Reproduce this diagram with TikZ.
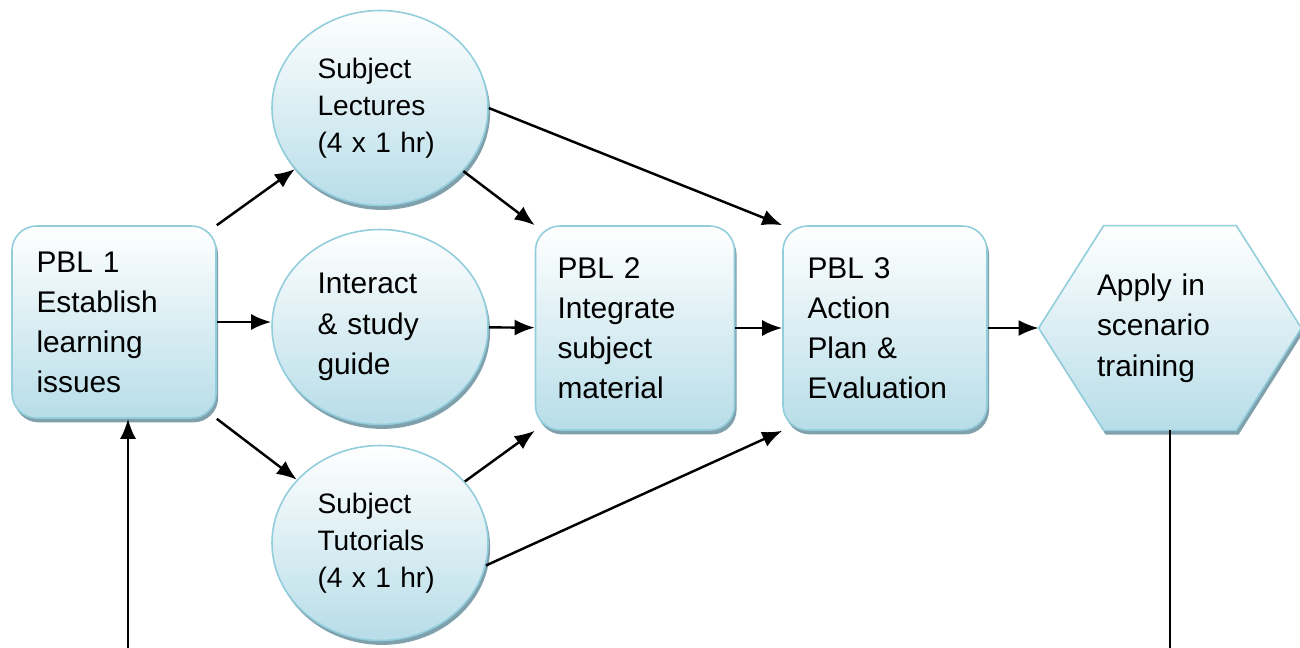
\documentclass[tikz,border=0pt]{standalone}
\usepackage{fontspec}
\setmainfont{Liberation Sans}
\usetikzlibrary{shapes.geometric, positioning, arrows.meta, shadows, backgrounds}

\definecolor{boxline}{RGB}{146,205,220}
\definecolor{boxfill}{RGB}{183,221,232}
\definecolor{boxshadow}{RGB}{128,160,172}

\begin{document}
\begin{tikzpicture}[->,>={Latex[length=4mm,width=3.2mm]},auto,node distance=5.3cm,
    every edge/.style={draw,line width=1.4pt},
    shade base/.style={draw=boxline,line width=0.9pt,top color=white,bottom color=boxfill,
      drop shadow={shadow xshift=1.2pt,shadow yshift=-2.5pt,fill=boxshadow,opacity=1}},
    pbl node/.style={shade base,rounded corners=14pt,minimum width=4.08cm,minimum height=4.08cm,
      text width=3.1cm,align=left,font=\fontsize{17}{22.8}\selectfont},
    study node/.style={shade base,ellipse,minimum width=4.32cm,minimum height=3.9cm,inner sep=0pt,
      text width=2.5cm,align=left,font=\fontsize{16}{21}\selectfont},
    apply node/.style={minimum width=5.24cm,minimum height=4.08cm,
      text width=2.92cm,align=left,font=\fontsize{17}{23}\selectfont}]

\useasboundingbox (0,0) rectangle (26,-12.96);

\node[pbl node,minimum height=3.84cm] (pbl1) at (2.28,-6.44) {PBL 1\\Establish\\learning\\issues};
\node[study node,font=\fontsize{17}{23.2}\selectfont,yshift=-0.1cm] (interact) [right of=pbl1, node distance=5.32cm] {Interact\\\& study\\guide};
\node[study node] (lectures) [above of=interact, node distance=4.38cm] {Subject\\Lectures\\(4 x 1 hr)};
\node[study node] (tutorials) [below of=interact, node distance=4.32cm] {Subject\\Tutorials\\(4 x 1 hr)};
\node[pbl node,minimum width=3.98cm] (pbl2) [right of=interact, node distance=5.1cm, yshift=-0.02cm] {PBL 2\\Integrate\\subject\\material};
\node[pbl node] (pbl3) [right of=pbl2, node distance=5cm] {PBL 3\\Action\\Plan \&\\Evaluation};
\node[apply node] (apply) [right of=pbl3, node distance=5.7cm] {Apply in\\scenario\\training};

\begin{pgfonlayer}{background}
\path[shade base] (apply.west) -- ([xshift=1.3cm]apply.north west) -- ([xshift=-1.3cm]apply.north east)
  -- (apply.east) -- ([xshift=-1.3cm]apply.south east) -- ([xshift=1.3cm]apply.south west) -- cycle;
\end{pgfonlayer}

\coordinate (loopin) at (2.56,-12.96);
\coordinate (loopout) at (apply.south |- loopin);

\path[]
(pbl1.north east) edge (lectures)
(pbl1) edge (pbl1 -| interact.west)
(pbl1.south east) edge (tutorials)
(lectures) edge (pbl2.north west)
(lectures.east) edge (pbl3.north west)
(interact) edge (pbl2)
(tutorials) edge (pbl2.south west)
(tutorials.-12) edge (pbl3.south west)
(pbl2) edge (pbl3)
(pbl3) edge (apply)
;

\draw[line width=1.4pt] (loopin) -- (loopin |- pbl1.south);
\draw[-,line width=0.8pt] (apply.south) -- (loopout);
\end{tikzpicture}
\end{document}
